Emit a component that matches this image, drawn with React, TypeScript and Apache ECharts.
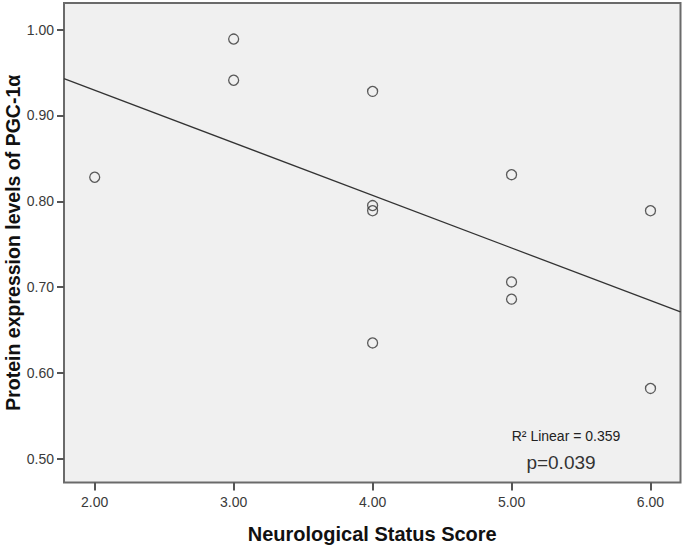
import React, { useEffect, useRef } from "react";
import * as echarts from "echarts";

const scores = [2, 3, 3, 4, 4, 4, 4, 5, 5, 5, 6, 6];
const pgcLevels = [0.828, 0.989, 0.941, 0.928, 0.795, 0.789, 0.635, 0.831, 0.706, 0.686, 0.789, 0.582];
const xTicks = [2, 3, 4, 5, 6];
const yTicks = [0.5, 0.6, 0.7, 0.8, 0.9, 1.0];
const r2Label = "R² Linear = 0.359";
const pLabel = "p=0.039";

const X_MIN = 1.779;
const X_MAX = 6.216;
const Y_MIN = 0.4724;
const Y_MAX = 1.031;

function fit(xs: number[], ys: number[]) {
  const n = xs.length;
  const mx = xs.reduce((a, b) => a + b, 0) / n;
  const my = ys.reduce((a, b) => a + b, 0) / n;
  let sxy = 0;
  let sxx = 0;
  for (let i = 0; i < n; i++) {
    sxy += (xs[i] - mx) * (ys[i] - my);
    sxx += (xs[i] - mx) * (xs[i] - mx);
  }
  const slope = sxy / sxx;
  return { slope, intercept: my - slope * mx };
}

export default function App() {
  const ref = useRef<HTMLDivElement>(null);
  useEffect(() => {
    if (!ref.current) return;
    const chart = echarts.init(ref.current, undefined, { renderer: "svg" });
    const { slope, intercept } = fit(scores, pgcLevels);
    const font = "'Liberation Sans', Arial, sans-serif";
    chart.setOption({
      animation: false,
      backgroundColor: "#ffffff",
      grid: {
        left: 64,
        right: 4.5,
        top: 3,
        bottom: 65.5,
        show: true,
        containLabel: false,
        outerBoundsMode: "none",
        backgroundColor: "#F0F0F0",
        borderColor: "#6a6a6a",
        borderWidth: 2,
      },
      xAxis: {
        type: "value",
        min: X_MIN,
        max: X_MAX,
        name: "Neurological Status Score",
        nameLocation: "middle",
        nameGap: 41,
        nameMoveOverlap: false,
        nameTextStyle: { fontFamily: font, fontSize: 20, fontWeight: "bold", color: "#111" },
        axisLine: { show: false },
        splitLine: { show: false },
        axisTick: {
          show: true,
          length: 8,
          customValues: xTicks,
          lineStyle: { color: "#555", width: 2 },
        },
        axisLabel: {
          customValues: xTicks,
          formatter: (v: number) => v.toFixed(2),
          fontFamily: font,
          fontSize: 14,
          color: "#3a3a3a",
          margin: 12,
        },
      },
      yAxis: {
        type: "value",
        min: Y_MIN,
        max: Y_MAX,
        name: "Protein expression levels of PGC-1α",
        nameLocation: "middle",
        nameGap: 41,
        nameMoveOverlap: false,
        nameTextStyle: { fontFamily: font, fontSize: 19.5, fontWeight: "bold", color: "#111" },
        axisLine: { show: false },
        splitLine: { show: false },
        axisTick: {
          show: true,
          length: 7,
          customValues: yTicks,
          lineStyle: { color: "#555", width: 2 },
        },
        axisLabel: {
          customValues: yTicks,
          formatter: (v: number) => v.toFixed(2),
          fontFamily: font,
          fontSize: 14,
          color: "#3a3a3a",
          margin: 10,
        },
      },
      series: [
        {
          type: "line",
          data: [
            [X_MIN, intercept + slope * X_MIN],
            [X_MAX, intercept + slope * X_MAX],
          ],
          symbol: "none",
          lineStyle: { color: "#333", width: 1.3 },
          silent: true,
          z: 2,
        },
        {
          type: "scatter",
          data: scores.map((s, i) => [s, pgcLevels[i]]),
          symbol: "circle",
          symbolSize: 10,
          itemStyle: { color: "rgba(0,0,0,0)", borderColor: "#333", borderWidth: 1.3 },
          z: 3,
        },
      ],
      graphic: [
        {
          type: "text",
          x: 566,
          y: 436,
          style: {
            text: r2Label,
            font: `14px ${font}`,
            fill: "#222",
            textAlign: "center",
            textVerticalAlign: "middle",
          },
        },
        {
          type: "text",
          x: 561,
          y: 462,
          style: {
            text: pLabel,
            font: `19px ${font}`,
            fill: "#333",
            textAlign: "center",
            textVerticalAlign: "middle",
          },
        },
      ],
    });
    return () => chart.dispose();
  }, []);
  return <div ref={ref} style={{ width: 685, height: 548, position: "absolute", left: 0, top: 0 }} />;
}
